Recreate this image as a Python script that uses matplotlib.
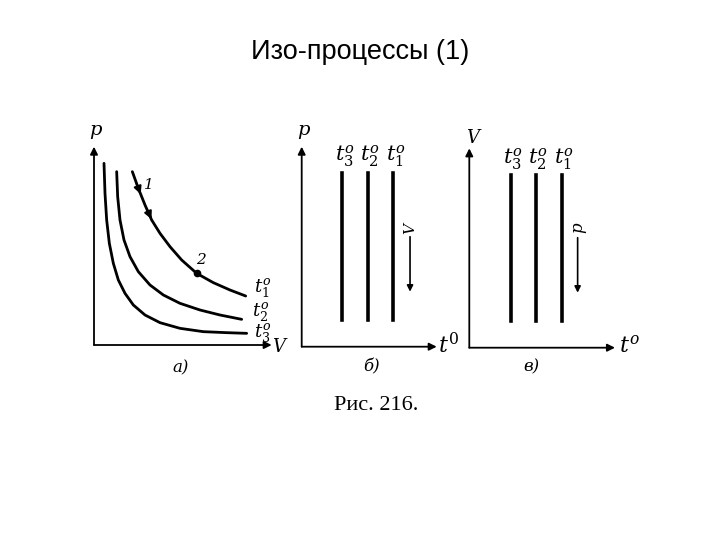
import numpy as np
import matplotlib
matplotlib.use("Agg")
from matplotlib import pyplot as plt

# isotherms p(V) read off panel a)
v_t3 = [0.6, 0.66, 0.76, 0.92, 1.16, 1.46, 1.86, 2.36, 3.06, 3.96, 5.16, 6.56, 7.96, 9.16]
p_t3 = [10.9, 9.1, 7.5, 6.1, 4.9, 3.9, 3.1, 2.4, 1.8, 1.34, 1.0, 0.8, 0.74, 0.7]
v_t2 = [1.36, 1.42, 1.56, 1.8, 2.16, 2.66, 3.36, 4.16, 5.16, 6.36, 7.56, 8.86]
p_t2 = [10.4, 8.9, 7.5, 6.3, 5.3, 4.4, 3.6, 3.0, 2.5, 2.1, 1.8, 1.54]
v_t1 = [2.3, 2.66, 3.06, 3.46, 3.96, 4.56, 5.26, 6.16, 7.16, 8.16, 9.1]
p_t1 = [10.4, 9.4, 8.4, 7.5, 6.7, 5.9, 5.1, 4.3, 3.74, 3.3, 2.94]
point2 = (6.16, 4.3)

# isobars (panel b) and isochores (panel c): temperatures and ranges
t_bars = [2.44, 3.96, 5.5]
p_range = [1.6, 10.4]
t_chores = [2.48, 4.0, 5.54]
v_range = [1.62, 10.36]
iso_labels = [r"$t_3^o$", r"$t_2^o$", r"$t_1^o$"]

W, H = 720, 540
UNIT = 50 / 3  # pixels per data unit

plt.rcParams["mathtext.fontset"] = "dejavuserif"
fig = plt.figure(figsize=(7.2, 5.4), dpi=100)


def panel(ox, oy, x0, x1, y0, y1):
    left = (ox + x0 * UNIT) / W
    width = (x1 - x0) * UNIT / W
    bottom = 1 - (oy - y0 * UNIT) / H
    height = (y1 - y0) * UNIT / H
    ax = fig.add_axes([left, bottom, width, height])
    ax.set_xlim(x0, x1)
    ax.set_ylim(y0, y1)
    ax.axis("off")
    return ax


def axes_arrows(ax, xend, yend):
    ap = dict(arrowstyle="-|>", lw=1.3, color="k", mutation_scale=11, shrinkA=0, shrinkB=0)
    ax.annotate("", xy=(xend, 0), xytext=(0, 0), arrowprops=ap)
    ax.annotate("", xy=(0, yend), xytext=(0, 0), arrowprops=ap)


lab = dict(fontfamily="DejaVu Serif", style="italic", color="k")

# a) isotherms
ax = panel(94, 345, -1, 12, -2, 14)
axes_arrows(ax, 10.66, 11.9)
for v, p in [(v_t1, p_t1), (v_t2, p_t2), (v_t3, p_t3)]:
    ax.plot(v, p, color="k", lw=2.0, solid_capstyle="round")
ax.plot(*point2, "o", color="k", ms=4.5)
small = dict(arrowstyle="-|>", lw=1.5, color="k", mutation_scale=11, shrinkA=0, shrinkB=0)
ax.annotate("", xy=(2.8, 9.05), xytext=(2.55, 9.7), arrowprops=small)
ax.annotate("", xy=(3.45, 7.55), xytext=(3.2, 8.1), arrowprops=small)
ax.text(3.3, 9.6, "1", fontsize=11, ha="center", va="center", **lab)
ax.text(6.4, 5.1, "2", fontsize=11, ha="center", va="center", **lab)
ax.text(9.6, 3.4, r"$t_1^o$", fontsize=13, ha="left", va="center")
ax.text(9.5, 1.95, r"$t_2^o$", fontsize=13, ha="left", va="center")
ax.text(9.6, 0.7, r"$t_3^o$", fontsize=13, ha="left", va="center")
ax.text(0.1, 12.9, "p", fontsize=14, ha="center", va="center", **lab)
ax.text(11.1, -0.1, "V", fontsize=13, ha="center", va="center", **lab)
ax.text(5.2, -1.35, "а)", fontsize=12, ha="center", va="center", **lab)

# б) isobars
ax = panel(301.7, 346.7, -1, 10, -2, 14)
axes_arrows(ax, 8.1, 12.0)
for t in t_bars:
    ax.plot([t, t], p_range, color="k", lw=2.6)
for t, s in zip(t_bars, iso_labels):
    ax.text(t + 0.15, 11.4, s, fontsize=15, ha="center", va="center")
ax.text(0.1, 13.0, "p", fontsize=14, ha="center", va="center", **lab)
ax.text(8.8, 0.1, r"$t^0$", fontsize=16, ha="center", va="center")
ax.text(6.5, 7.1, "V", fontsize=11, rotation=90, ha="center", va="center", **lab)
ax.annotate("", xy=(6.5, 3.3), xytext=(6.5, 6.6), arrowprops=dict(arrowstyle="-|>", lw=1.2, color="k", mutation_scale=9, shrinkA=0, shrinkB=0))
ax.text(4.2, -1.2, "б)", fontsize=12, ha="center", va="center", **lab)

# в) isochores
ax = panel(469.3, 347.7, -1, 11, -2, 14)
axes_arrows(ax, 8.74, 11.96)
for t in t_chores:
    ax.plot([t, t], v_range, color="k", lw=2.6)
for t, s in zip(t_chores, iso_labels):
    ax.text(t + 0.15, 11.3, s, fontsize=15, ha="center", va="center")
ax.text(0.2, 12.6, "V", fontsize=13, ha="center", va="center", **lab)
ax.text(9.6, 0.15, r"$t^o$", fontsize=16, ha="center", va="center")
ax.text(6.5, 7.2, "p", fontsize=12, rotation=90, ha="center", va="center", **lab)
ax.annotate("", xy=(6.5, 3.3), xytext=(6.5, 6.6), arrowprops=dict(arrowstyle="-|>", lw=1.2, color="k", mutation_scale=9, shrinkA=0, shrinkB=0))
ax.text(3.74, -1.15, "в)", fontsize=12, ha="center", va="center", **lab)

fig.text(0.5, 1 - 52 / H, "Изо-процессы (1)", fontsize=19.5, fontfamily="Liberation Sans",
         ha="center", va="center")
fig.text(376 / W, 1 - 405 / H, "Рис. 216.", fontsize=16, fontfamily="Liberation Serif",
         ha="center", va="center")

fig.savefig("out.png", dpi=100)
